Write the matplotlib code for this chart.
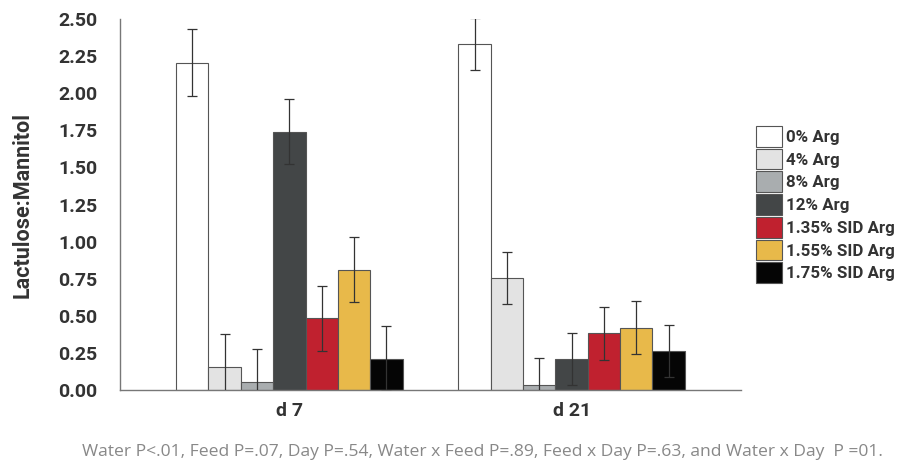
import numpy as np
import matplotlib.pyplot as plt

plt.rcParams['font.family'] = ['Roboto', 'DejaVu Sans']

# data
days = ['d 7', 'd 21']
treatments = ['0% Arg', '4% Arg', '8% Arg', '12% Arg',
              '1.35% SID Arg', '1.55% SID Arg', '1.75% SID Arg']
d7_means = [2.205, 0.157, 0.056, 1.74, 0.483, 0.812, 0.211]
d21_means = [2.332, 0.756, 0.036, 0.209, 0.382, 0.42, 0.263]
d7_se = [0.225, 0.22, 0.22, 0.22, 0.22, 0.22, 0.22]
d21_se = [0.175, 0.176, 0.177, 0.177, 0.178, 0.178, 0.178]
colors = ['#ffffff', '#e3e3e3', '#a9adaf', '#434647', '#c0212f', '#e8b94a', '#050505']
footnote = ('Water P<.01, Feed P=.07, Day P=.54, Water x Feed P=.89, '
            'Feed x Day P=.63, and Water x Day  P =01.')

fig = plt.figure(figsize=(9, 4.66), dpi=100)
ax = fig.add_axes([0.1333, 0.1631, 0.69, 0.7961])

x = np.arange(len(days))
width = 0.1146
n = len(treatments)
for i, name in enumerate(treatments):
    pos = x + (i - (n - 1) / 2) * width
    vals = [d7_means[i], d21_means[i]]
    errs = [d7_se[i], d21_se[i]]
    ax.bar(pos, vals, width, color=colors[i], edgecolor='#555555', linewidth=0.8,
           label=name, zorder=2)
    ax.errorbar(pos, vals, yerr=errs, fmt='none', ecolor='#333333', elinewidth=0.9,
                capsize=3.5, capthick=0.9, zorder=3)

ax.set_xlim(-0.6, 1.6)
ax.set_ylim(0, 2.5)
ax.set_yticks(np.arange(0, 2.51, 0.25))
ax.set_yticklabels(['%.2f' % v for v in np.arange(0, 2.51, 0.25)])
ax.set_xticks(x)
ax.set_xticklabels(days)
ax.tick_params(axis='both', length=0, labelsize=14, labelcolor='#333333')
ax.tick_params(axis='y', pad=16)
ax.tick_params(axis='x', pad=9)
for lbl in ax.get_xticklabels() + ax.get_yticklabels():
    lbl.set_fontweight('bold')

for s in ['top', 'right']:
    ax.spines[s].set_visible(False)
for s in ['left', 'bottom']:
    ax.spines[s].set_color('#777777')
    ax.spines[s].set_linewidth(1.0)

ax.set_ylabel('Lactulose:Mannitol', fontsize=15.5, fontweight='bold', color='#333333',
              labelpad=18)

leg = ax.legend(loc='center left', bbox_to_anchor=(1.013, 0.5), frameon=False,
                prop={'size': 12.2, 'weight': 'bold'}, handlelength=1.55, handleheight=1.5,
                handletextpad=0.25, labelspacing=0.12, borderaxespad=0)
for t in leg.get_texts():
    t.set_color('#333333')

fig.text(0.536, 0.012, footnote, ha='center', va='bottom', fontsize=12.6,
         color='#888888', family=['Open Sans', 'DejaVu Sans'])

fig.savefig('out.png', dpi=100)
